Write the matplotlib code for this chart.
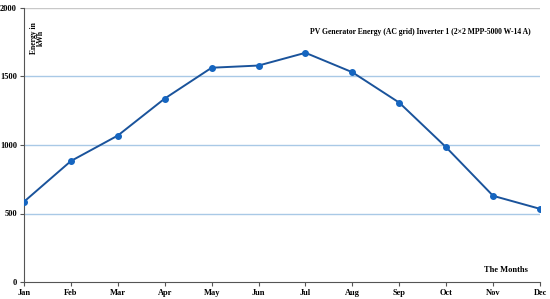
import matplotlib.pyplot as plt

months = ["Jan", "Feb", "Mar", "Apr", "May", "Jun",
          "Jul", "Aug", "Sep", "Oct", "Nov", "Dec"]
energy = [586, 883, 1069, 1339, 1564, 1580, 1673, 1531, 1309, 983, 629, 534]
y_ticks = [0, 500, 1000, 1500, 2000]

plt.rcParams["font.family"] = ["Liberation Serif", "DejaVu Serif"]

fig = plt.figure(figsize=(5.5, 2.99), dpi=100)
ax = fig.add_axes([24 / 550, 17 / 299, 516 / 550, 274 / 299])

x = list(range(len(months)))
for v in [500, 1000, 1500]:
    ax.axhline(v, color="#a9c9e6", lw=1.0, zorder=1)
ax.axhline(2000, color="#c8c8c8", lw=1.0, zorder=1)

ax.plot(x, energy, color="#1a539b", lw=1.4, marker="o", ms=4,
        mfc="#1565c0", mec="#1565c0", zorder=3)

ax.set_xlim(0, 11)
ax.set_ylim(0, 2000)
ax.set_xticks(x)
ax.set_xticklabels(months)
ax.set_yticks(y_ticks)
ax.tick_params(axis="both", labelsize=6, length=3, width=0.8, color="#555555", pad=2)
for lbl in ax.get_xticklabels() + ax.get_yticklabels():
    lbl.set_fontweight("bold")

for side in ["top", "right"]:
    ax.spines[side].set_visible(False)
for side in ["left", "bottom"]:
    ax.spines[side].set_color("#555555")
    ax.spines[side].set_linewidth(0.8)

ax.text(0.12, 1900, "Energy in\nkWh", rotation=90, ha="left", va="top",
        multialignment="center", fontsize=5.5, fontweight="bold", linespacing=0.9)
ax.text(10.8, 1825, "PV Generator Energy (AC grid) Inverter 1 (2×2 MPP-5000 W-14 A)",
        ha="right", va="center", fontsize=5.5, fontweight="bold")
ax.text(10.75, 90, "The Months", ha="right", va="center",
        fontsize=6, fontweight="bold")

fig.savefig("out.png", dpi=100)
